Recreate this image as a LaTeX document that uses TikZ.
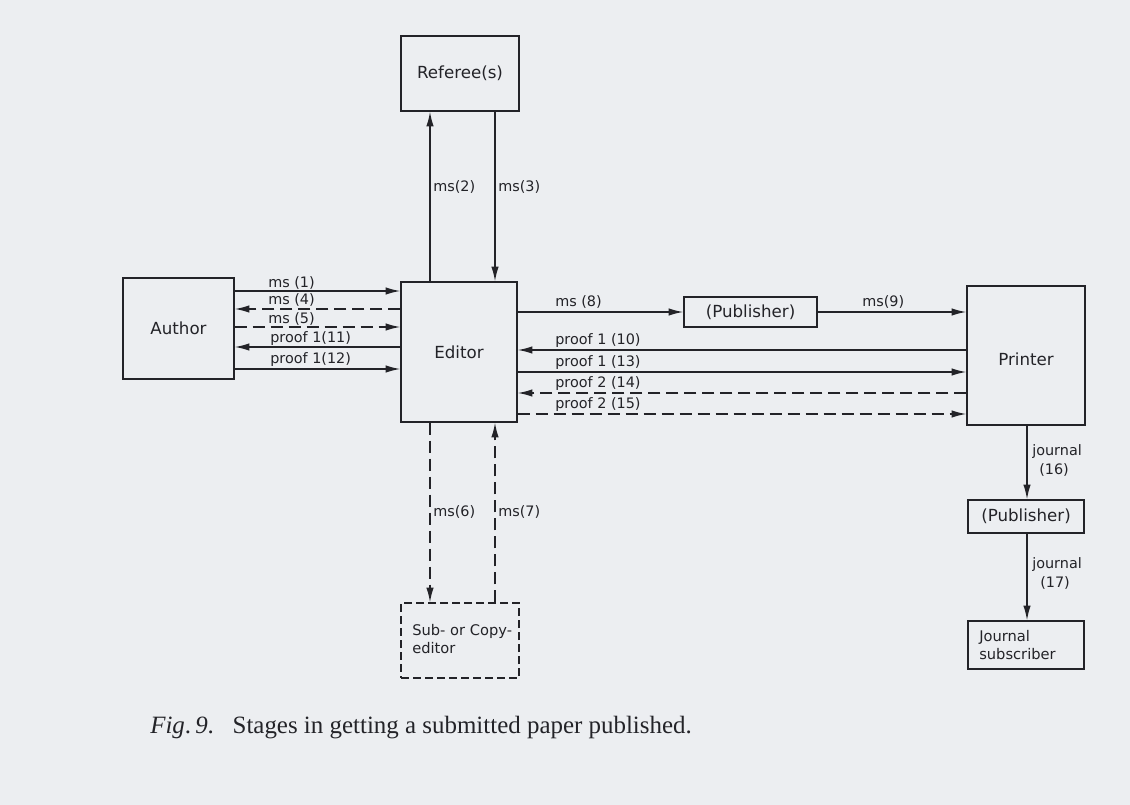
\documentclass[tikz,border=0pt]{standalone}
\usepackage{fontspec}
\setmainfont{Liberation Serif}
\newfontfamily\labfont{DejaVu Sans}
\usetikzlibrary{arrows.meta}
\definecolor{paper}{RGB}{236,238,241}
\definecolor{ink}{RGB}{35,35,40}
\begin{document}
\begin{tikzpicture}[x=0.75pt,y=-0.75pt,
  box/.style={draw=ink, line width=0.9pt, inner sep=0pt, text=ink, font=\labfont\fontsize{12.5}{14}\selectfont},
  dbox/.style={box, dash pattern=on 6pt off 3pt},
  arr/.style={draw=ink, line width=1.1pt, -{Latex[length=11pt,width=5.5pt]}},
  dsh/.style={dash pattern=on 9pt off 4.5pt},
  lbl/.style={font=\labfont\fontsize{10.8}{12}\selectfont, text=ink, inner sep=0pt, anchor=base west},
  txt/.style={font=\labfont\fontsize{11}{14}\selectfont, text=ink, inner sep=0pt, align=left}]
\fill[paper] (0,0) rectangle (1130,805);
\useasboundingbox (0,0) rectangle (1130,805);
% boxes
\node[box, minimum width=83.25pt, minimum height=75.75pt] (author) at (178.5,328.5) {Author};
\node[box, minimum width=87pt, minimum height=105pt] (editor) at (459,352) {Editor};
\node[box, minimum width=88.5pt, minimum height=56.25pt] (referee) at (460,73.5) {Referee(s)};
\node[dbox, minimum width=88.5pt, minimum height=56.25pt] (sub) at (460,640.5) {};
\node[txt, anchor=west] (subt) at (412,639) {Sub- or Copy-\\editor};
\node[box, minimum width=99.75pt, minimum height=22.5pt] (pub1) at (750.5,312) {(Publisher)};
\node[box, minimum width=88.5pt, minimum height=104.25pt] (printer) at (1026,355.5) {};
\node[box, draw=none] (printert) at (1026,359) {Printer};
\node[box, minimum width=87pt, minimum height=24.75pt] (pub2) at (1026,516.5) {(Publisher)};
\node[box, minimum width=87pt, minimum height=36pt] (subscr) at (1026,645) {};
\node[txt, anchor=west] (subscrt) at (979,645) {Journal\\subscriber};
% helper coordinates
\coordinate (r1) at (0,291);
\coordinate (r4) at (0,309);
\coordinate (r5) at (0,327);
\coordinate (r11) at (0,347);
\coordinate (r12) at (0,369);
\coordinate (r8) at (0,312);
\coordinate (r10) at (0,350);
\coordinate (r13) at (0,372);
\coordinate (r14) at (0,393);
\coordinate (r15) at (0,414);
\coordinate (cL) at (430,0);
\coordinate (cR) at (495,0);
\coordinate (cP) at (1027,0);
% author <-> editor
\draw[arr] (author.east |- r1) -- (editor.west |- r1);
\draw[arr,dsh] (editor.west |- r4) -- (author.east |- r4);
\draw[arr,dsh] (author.east |- r5) -- (editor.west |- r5);
\draw[arr] (editor.west |- r11) -- (author.east |- r11);
\draw[arr] (author.east |- r12) -- (editor.west |- r12);
\node[lbl] (l1) at (268,287) {ms (1)};
\node[lbl] (l4) at (268,305) {ms (4)};
\node[lbl] (l5) at (268,323) {ms (5)};
\node[lbl] (l11) at (270,342) {proof 1(11)};
\node[lbl] (l12) at (270,363) {proof 1(12)};
% editor <-> referee
\draw[arr] (editor.north -| cL) -- (referee.south -| cL);
\draw[arr] (referee.south -| cR) -- (editor.north -| cR);
\node[lbl] (l2) at (433,192) {ms(2)};
\node[lbl] (l3) at (498,192) {ms(3)};
% editor <-> sub-editor
\draw[arr,dsh] (editor.south -| cL) -- (sub.north -| cL);
\draw[arr,dsh] (sub.north -| cR) -- (editor.south -| cR);
\node[lbl] (l6) at (433,516) {ms(6)};
\node[lbl] (l7) at (498,516) {ms(7)};
% editor -> publisher -> printer
\draw[arr] (editor.east |- r8) -- (pub1.west |- r8);
\draw[arr] (pub1.east |- r8) -- (printer.west |- r8);
\node[lbl] (l8) at (555,306) {ms (8)};
\node[lbl] (l9) at (862,306) {ms(9)};
% editor <-> printer proofs
\draw[arr] (printer.west |- r10) -- (editor.east |- r10);
\draw[arr] (editor.east |- r13) -- (printer.west |- r13);
\draw[arr,dsh] (printer.west |- r14) -- (editor.east |- r14);
\draw[arr,dsh] (editor.east |- r15) -- (printer.west |- r15);
\node[lbl] (l10) at (555,344) {proof 1 (10)};
\node[lbl] (l13) at (555,366) {proof 1 (13)};
\node[lbl] (l14) at (555,387) {proof 2 (14)};
\node[lbl] (l15) at (555,408) {proof 2 (15)};
% printer -> publisher -> subscriber
\draw[arr] (printer.south -| cP) -- (pub2.north -| cP);
\draw[arr] (pub2.south -| cP) -- (subscr.north -| cP);
\node[lbl] (l16a) at (1032,455) {journal};
\node[lbl] (l16b) at (1039,474) {(16)};
\node[lbl] (l17a) at (1032,568) {journal};
\node[lbl] (l17b) at (1040,587) {(17)};
% caption
\node[anchor=base west, inner sep=0pt, text=ink, font=\fontsize{18.7}{22}\selectfont] (cap) at (150,733)
  {\textit{Fig}.\,\textit{9}.\hspace{0.75em}Stages in getting a submitted paper published.};
\end{tikzpicture}
\end{document}
